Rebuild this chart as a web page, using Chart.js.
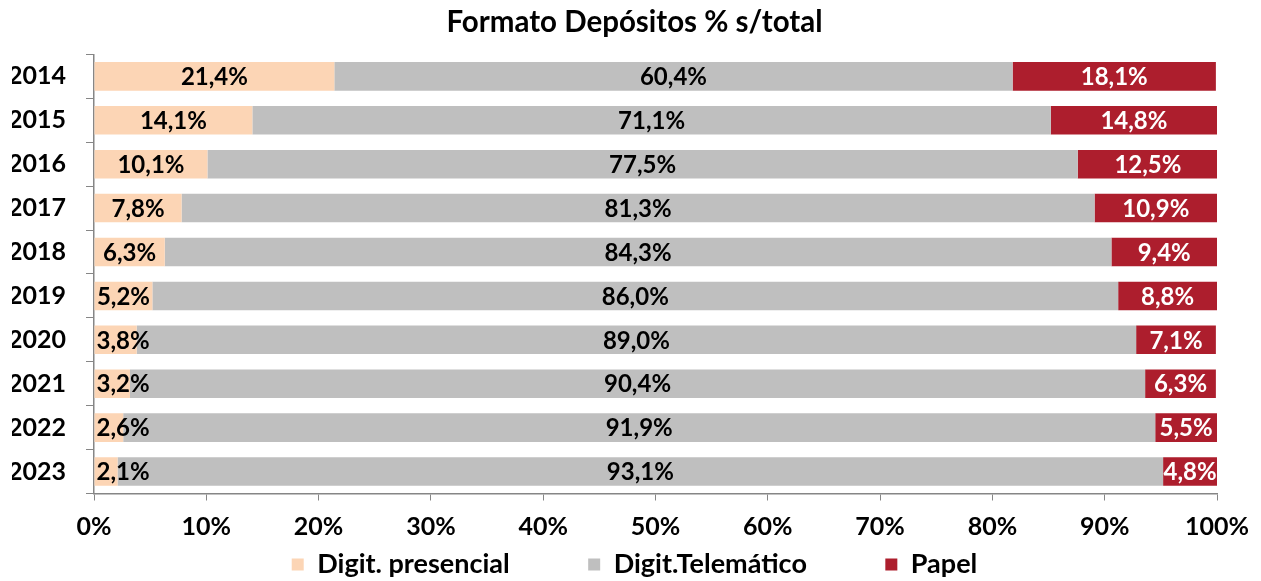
<!DOCTYPE html>
<html>
<head>
<meta charset="utf-8">
<script src="https://cdn.jsdelivr.net/npm/chart.js@4/dist/chart.umd.min.js"></script>
<style>
  html, body { margin: 0; padding: 0; background: #ffffff; }
  #wrap { width: 1261px; height: 581px; position: relative; }
</style>
</head>
<body>
<div id="wrap"><canvas id="c"></canvas></div>
<script>
const years = ['2014','2015','2016','2017','2018','2019','2020','2021','2022','2023'];
const presencial = [21.4, 14.1, 10.1, 7.8, 6.3, 5.2, 3.8, 3.2, 2.6, 2.1];
const telematico = [60.4, 71.1, 77.5, 81.3, 84.3, 86.0, 89.0, 90.4, 91.9, 93.1];
const papel = [18.1, 14.8, 12.5, 10.9, 9.4, 8.8, 7.1, 6.3, 5.5, 4.8];
const seriesNames = ['Digit. presencial', 'Digit.Telemático', 'Papel'];
const xTicks = [0, 10, 20, 30, 40, 50, 60, 70, 80, 90, 100];

const FONT = 'Lato, "Open Sans", sans-serif';
const labelColors = ['#000000', '#000000', '#ffffff'];

const barLabels = {
  id: 'barLabels',
  afterDatasetsDraw(chart) {
    const ctx = chart.ctx;
    ctx.save();
    ctx.font = 'bold 24px ' + FONT;
    ctx.textAlign = 'center';
    ctx.textBaseline = 'middle';
    chart.getSortedVisibleDatasetMetas().forEach(meta => {
      const ds = chart.data.datasets[meta.index];
      meta.data.forEach((el, i) => {
        const p = el.getProps(['x', 'y', 'base'], true);
        const txt = ds.data[i].toFixed(1).replace('.', ',') + '%';
        const w = ctx.measureText(txt).width;
        let cx = (p.x + p.base) / 2;
        if (meta.index === 0) cx = Math.max(cx, p.base + w / 2 + 2);
        ctx.fillStyle = labelColors[meta.index];
        ctx.fillText(txt, cx, p.y + 1);
      });
    });
    ctx.restore();
  }
};

// center title and legend on the same horizontal band as the reference
const shiftBlocks = {
  id: 'shiftBlocks',
  afterLayout(chart) {
    if (chart.legend) chart.legend.left = 52;
    if (chart.titleBlock) chart.titleBlock.left = 52;
  }
};

const pad = '\u2003\u2003\u2003\u2002\u200A';

new Chart(document.getElementById('c'), {
  type: 'bar',
  data: {
    labels: years,
    datasets: [
      { label: seriesNames[0], data: presencial, backgroundColor: '#FCD5B5' },
      { label: seriesNames[1], data: telematico, backgroundColor: '#BFBFBF' },
      { label: seriesNames[2], data: papel, backgroundColor: '#AD1E2D' }
    ]
  },
  options: {
    indexAxis: 'y',
    responsive: true,
    maintainAspectRatio: false,
    animation: false,
    datasets: { bar: { barPercentage: 0.65, categoryPercentage: 1.0 } },
    layout: { padding: { left: 12, right: 44, top: 0, bottom: -7 } },
    scales: {
      x: {
        stacked: true,
        min: 0,
        max: 100,
        afterBuildTicks(axis) { axis.ticks = xTicks.map(v => ({ value: v })); },
        afterFit(axis) { axis.height = 55; },
        ticks: {
          color: '#000000',
          font: { family: FONT, size: 25, weight: 'bold' },
          padding: 11,
          callback: v => v + '%'
        },
        grid: { display: true, drawOnChartArea: false, drawTicks: true, tickLength: 7, color: '#868686' },
        border: { display: true, color: '#868686', width: 1.5 }
      },
      y: {
        stacked: true,
        afterFit(axis) { axis.width = 82; },
        ticks: {
          color: '#000000',
          font: { family: FONT, size: 25, weight: 'bold' },
          padding: 20
        },
        grid: { display: true, drawOnChartArea: false, drawTicks: true, tickLength: 8, color: '#868686', offset: true },
        border: { display: true, color: '#868686', width: 1.5 }
      }
    },
    plugins: {
      title: {
        display: true,
        text: 'Formato Depósitos % s/total',
        color: '#000000',
        font: { family: FONT, size: 29.5, weight: 'bold' },
        padding: { top: 5, bottom: 14 }
      },
      legend: {
        display: true,
        position: 'bottom',
        labels: {
          color: '#000000',
          font: { family: FONT, size: 27, weight: 'bold' },
          boxWidth: 12,
          boxHeight: 12,
          padding: 2.5,
          generateLabels(chart) {
            const items = Chart.defaults.plugins.legend.labels.generateLabels(chart);
            items.forEach((it, i) => { if (i < items.length - 1) it.text = it.text + pad; it.lineWidth = 0; });
            return items;
          }
        }
      },
      tooltip: { enabled: false }
    }
  },
  plugins: [barLabels, shiftBlocks]
});
</script>
</body>
</html>
